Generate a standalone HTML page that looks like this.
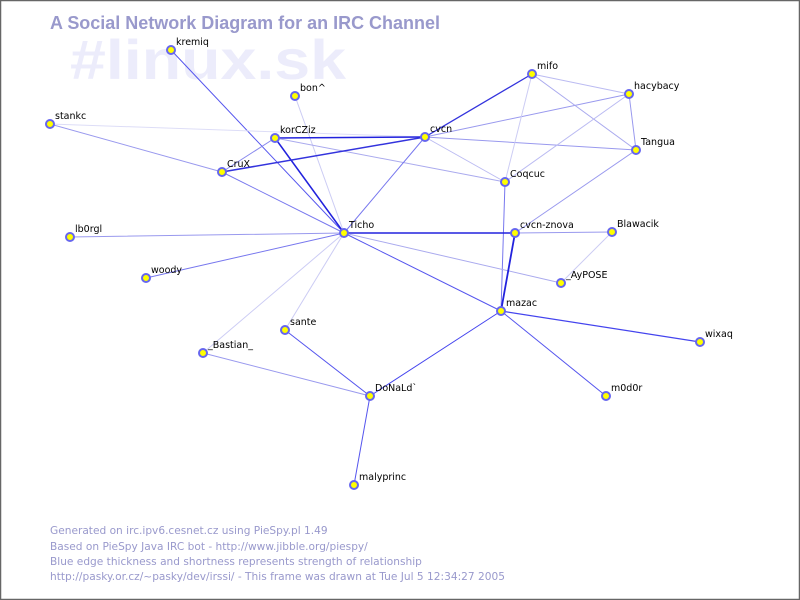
<!DOCTYPE html>
<html><head><meta charset="utf-8"><style>
html,body{margin:0;padding:0;background:#fff}
svg{display:block}
text{font-family:"DejaVu Sans","Liberation Sans",sans-serif}
</style></head><body>
<svg width="800" height="600" viewBox="0 0 800 600" xmlns="http://www.w3.org/2000/svg">
<rect x="0.5" y="0.5" width="799" height="599" fill="#fff" stroke="#666" stroke-width="1.5"/>
<text x="70" y="79" font-size="56" font-weight="bold" fill="#ececfb" style="font-family:'Liberation Sans',sans-serif" textLength="276" lengthAdjust="spacingAndGlyphs">#linux.sk</text>
<text x="50" y="29" font-size="18" font-weight="bold" fill="#9999cc" style="font-family:'Liberation Sans',sans-serif" textLength="390" lengthAdjust="spacingAndGlyphs">A Social Network Diagram for an IRC Channel</text>
<g stroke-linecap="round">
<line x1="171" y1="50" x2="344" y2="233" stroke="#5555ee" stroke-width="1"/>
<line x1="295" y1="96" x2="344" y2="233" stroke="#ccccf4" stroke-width="1"/>
<line x1="50" y1="124" x2="222" y2="172" stroke="#9999ee" stroke-width="1"/>
<line x1="50" y1="124" x2="425" y2="137" stroke="#ddddf7" stroke-width="1"/>
<line x1="275" y1="138" x2="344" y2="233" stroke="#2222dd" stroke-width="1.5"/>
<line x1="275" y1="138" x2="425" y2="137" stroke="#2222dd" stroke-width="1.5"/>
<line x1="275" y1="138" x2="222" y2="172" stroke="#8888ee" stroke-width="1"/>
<line x1="275" y1="138" x2="505" y2="182" stroke="#aaaaee" stroke-width="1"/>
<line x1="222" y1="172" x2="425" y2="137" stroke="#3333dd" stroke-width="1.5"/>
<line x1="222" y1="172" x2="344" y2="233" stroke="#7777ee" stroke-width="1"/>
<line x1="425" y1="137" x2="532" y2="74" stroke="#3333dd" stroke-width="1.3"/>
<line x1="425" y1="137" x2="629" y2="94" stroke="#9999ee" stroke-width="1"/>
<line x1="425" y1="137" x2="636" y2="150" stroke="#9999ee" stroke-width="1"/>
<line x1="425" y1="137" x2="505" y2="182" stroke="#bbbbf2" stroke-width="1"/>
<line x1="425" y1="137" x2="344" y2="233" stroke="#7777ee" stroke-width="1"/>
<line x1="532" y1="74" x2="629" y2="94" stroke="#bbbbf2" stroke-width="1"/>
<line x1="532" y1="74" x2="636" y2="150" stroke="#aaaaee" stroke-width="1"/>
<line x1="532" y1="74" x2="505" y2="182" stroke="#ccccf4" stroke-width="1"/>
<line x1="629" y1="94" x2="636" y2="150" stroke="#9999ee" stroke-width="1"/>
<line x1="629" y1="94" x2="505" y2="182" stroke="#bbbbf2" stroke-width="1"/>
<line x1="636" y1="150" x2="515" y2="233" stroke="#9999ee" stroke-width="1"/>
<line x1="505" y1="182" x2="501" y2="311" stroke="#7777ee" stroke-width="1"/>
<line x1="344" y1="233" x2="70" y2="237" stroke="#9999ee" stroke-width="1"/>
<line x1="344" y1="233" x2="146" y2="278" stroke="#7777ee" stroke-width="1"/>
<line x1="344" y1="233" x2="515" y2="233" stroke="#2222dd" stroke-width="1.5"/>
<line x1="344" y1="233" x2="501" y2="311" stroke="#5555ee" stroke-width="1"/>
<line x1="344" y1="233" x2="561" y2="283" stroke="#aaaaee" stroke-width="1"/>
<line x1="344" y1="233" x2="285" y2="330" stroke="#ccccf4" stroke-width="1"/>
<line x1="344" y1="233" x2="203" y2="353" stroke="#ccccf4" stroke-width="1"/>
<line x1="515" y1="233" x2="501" y2="311" stroke="#2222dd" stroke-width="1.8"/>
<line x1="515" y1="233" x2="612" y2="232" stroke="#9999ee" stroke-width="1"/>
<line x1="612" y1="232" x2="561" y2="283" stroke="#ccccf4" stroke-width="1"/>
<line x1="501" y1="311" x2="700" y2="342" stroke="#4444ee" stroke-width="1.2"/>
<line x1="501" y1="311" x2="606" y2="396" stroke="#5555ee" stroke-width="1"/>
<line x1="501" y1="311" x2="370" y2="396" stroke="#4444ee" stroke-width="1"/>
<line x1="285" y1="330" x2="370" y2="396" stroke="#5555ee" stroke-width="1"/>
<line x1="203" y1="353" x2="370" y2="396" stroke="#9999ee" stroke-width="1"/>
<line x1="370" y1="396" x2="354" y2="485" stroke="#5555ee" stroke-width="1"/>
</g>
<g fill="#ffff00" stroke="#6666ee" stroke-width="2">
<circle cx="171" cy="50" r="4"/><circle cx="295" cy="96" r="4"/><circle cx="50" cy="124" r="4"/>
<circle cx="275" cy="138" r="4"/><circle cx="425" cy="137" r="4"/><circle cx="532" cy="74" r="4"/>
<circle cx="629" cy="94" r="4"/><circle cx="636" cy="150" r="4"/><circle cx="505" cy="182" r="4"/>
<circle cx="222" cy="172" r="4"/><circle cx="344" cy="233" r="4"/><circle cx="515" cy="233" r="4"/>
<circle cx="612" cy="232" r="4"/><circle cx="70" cy="237" r="4"/><circle cx="146" cy="278" r="4"/>
<circle cx="561" cy="283" r="4"/><circle cx="501" cy="311" r="4"/><circle cx="700" cy="342" r="4"/>
<circle cx="285" cy="330" r="4"/><circle cx="203" cy="353" r="4"/><circle cx="370" cy="396" r="4"/>
<circle cx="606" cy="396" r="4"/><circle cx="354" cy="485" r="4"/>
</g>
<g font-size="9.5" fill="#000">
<text x="176" y="45">kremiq</text><text x="300" y="91">bon^</text><text x="55" y="119">stankc</text>
<text x="280" y="133">korCZiz</text><text x="430" y="132">cvcn</text><text x="537" y="69">mifo</text>
<text x="634" y="89">hacybacy</text><text x="641" y="145">Tangua</text><text x="510" y="177">Coqcuc</text>
<text x="227" y="167">CruX</text><text x="349" y="228">Ticho</text><text x="520" y="228">cvcn-znova</text>
<text x="617" y="227">Blawacik</text><text x="75" y="232">lb0rgl</text><text x="151" y="273">woody</text>
<text x="566" y="278">_AyPOSE</text><text x="506" y="306">mazac</text><text x="705" y="337">wixaq</text>
<text x="290" y="325">sante</text><text x="208" y="348">_Bastian_</text><text x="375" y="391">DoNaLd`</text>
<text x="611" y="391">m0d0r</text><text x="359" y="480">malyprinc</text>
</g>
<g font-size="10.6" fill="#9999cc">
<text x="50" y="534">Generated on irc.ipv6.cesnet.cz using PieSpy.pl 1.49</text>
<text x="50" y="550">Based on PieSpy Java IRC bot - http://www.jibble.org/piespy/</text>
<text x="50" y="565">Blue edge thickness and shortness represents strength of relationship</text>
<text x="50" y="580" textLength="455" lengthAdjust="spacingAndGlyphs">http://pasky.or.cz/~pasky/dev/irssi/ - This frame was drawn at Tue Jul  5 12:34:27 2005</text>
</g>
</svg>
</body></html>
